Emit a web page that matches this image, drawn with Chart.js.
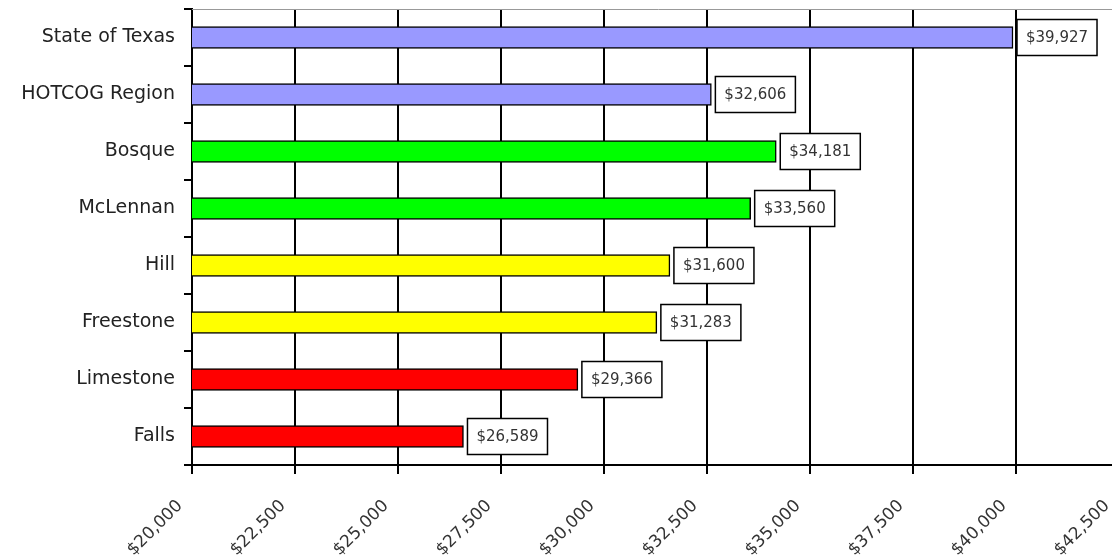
<!DOCTYPE html>
<html lang="en">
<head>
  <meta charset="UTF-8" />
  <title>Per Capita Income</title>
  <script src="https://cdn.jsdelivr.net/npm/chart.js"></script>
  <style>
    html, body { margin: 0; padding: 0; background: #fff; overflow: hidden; }
    #wrap { position: relative; width: 1125px; height: 558px; }
  </style>
</head>
<body>
  <div id="wrap"><canvas id="incomeChart"></canvas></div>

  <script>
    const areas = ['State of Texas', 'HOTCOG Region', 'Bosque', 'McLennan', 'Hill', 'Freestone', 'Limestone', 'Falls'];
    const incomes = [39927, 32606, 34181, 33560, 31600, 31283, 29366, 26589];
    const barColors = ['#9999ff', '#9999ff', '#00ff00', '#00ff00', '#ffff00', '#ffff00', '#ff0000', '#ff0000'];
    const xMin = 20000, xMax = 42500, xStep = 2500;

    const money = v => '$' + v.toLocaleString('en-US');
    const fontFamily = '"DejaVu Sans", sans-serif';

    // boxed value labels at the end of each bar, plus the grey top border
    const valueBoxes = {
      id: 'valueBoxes',
      afterDatasetsDraw(chart) {
        const ctx = chart.ctx;
        const area = chart.chartArea;
        ctx.save();
        ctx.strokeStyle = '#999';
        ctx.lineWidth = 1;
        ctx.beginPath();
        ctx.moveTo(area.left, area.top + 0.5);
        ctx.lineTo(chart.width, area.top + 0.5);
        ctx.stroke();

        ctx.font = '15px ' + fontFamily;
        ctx.textBaseline = 'middle';
        chart.getDatasetMeta(0).data.forEach((bar, i) => {
          const text = money(incomes[i]);
          const w = ctx.measureText(text).width + 18;
          const h = 36;
          const x = bar.x + 4;
          const y = bar.y - h / 2;
          ctx.fillStyle = '#fff';
          ctx.fillRect(x, y, w, h);
          ctx.strokeStyle = '#000';
          ctx.lineWidth = 1.5;
          ctx.strokeRect(x, y, w, h);
          ctx.fillStyle = '#333';
          ctx.fillText(text, x + 9, bar.y + 1);
        });
        ctx.restore();
      }
    };

    // drop the automatic label padding so the plot area sits where it should
    const noPad = s => {
      s.paddingTop = 0; s.paddingBottom = 0;
      s.paddingLeft = 0; s.paddingRight = 0;
    };

    new Chart(document.getElementById('incomeChart'), {
      type: 'bar',
      data: {
        labels: areas,
        datasets: [{
          data: incomes,
          backgroundColor: barColors,
          borderColor: '#000',
          borderWidth: 1.5,
          borderSkipped: false,
          barThickness: 22
        }]
      },
      options: {
        indexAxis: 'y',
        responsive: true,
        maintainAspectRatio: false,
        animation: false,
        layout: { padding: { top: 9, right: 6, left: 0, bottom: 0 } },
        plugins: {
          legend: { display: false },
          tooltip: { enabled: false }
        },
        scales: {
          x: {
            min: xMin,
            max: xMax,
            afterFit: s => { s.height = 93; noPad(s); },
            grid: { color: '#000', lineWidth: 2, tickLength: 9 },
            border: { color: '#000', width: 2 },
            ticks: {
              stepSize: xStep,
              maxRotation: 45,
              minRotation: 45,
              color: '#333',
              padding: 22,
              labelOffset: -12,
              font: { family: fontFamily, size: 17 },
              callback: v => money(v)
            }
          },
          y: {
            offset: true,
            afterFit: s => { s.width = 192; noPad(s); },
            grid: { drawOnChartArea: false, color: '#000', lineWidth: 2, tickLength: 8, offset: true },
            border: { color: '#000', width: 2 },
            ticks: {
              color: '#222',
              padding: 9,
              font: { family: fontFamily, size: 19 }
            }
          }
        }
      },
      plugins: [valueBoxes]
    });
  </script>
</body>
</html>
